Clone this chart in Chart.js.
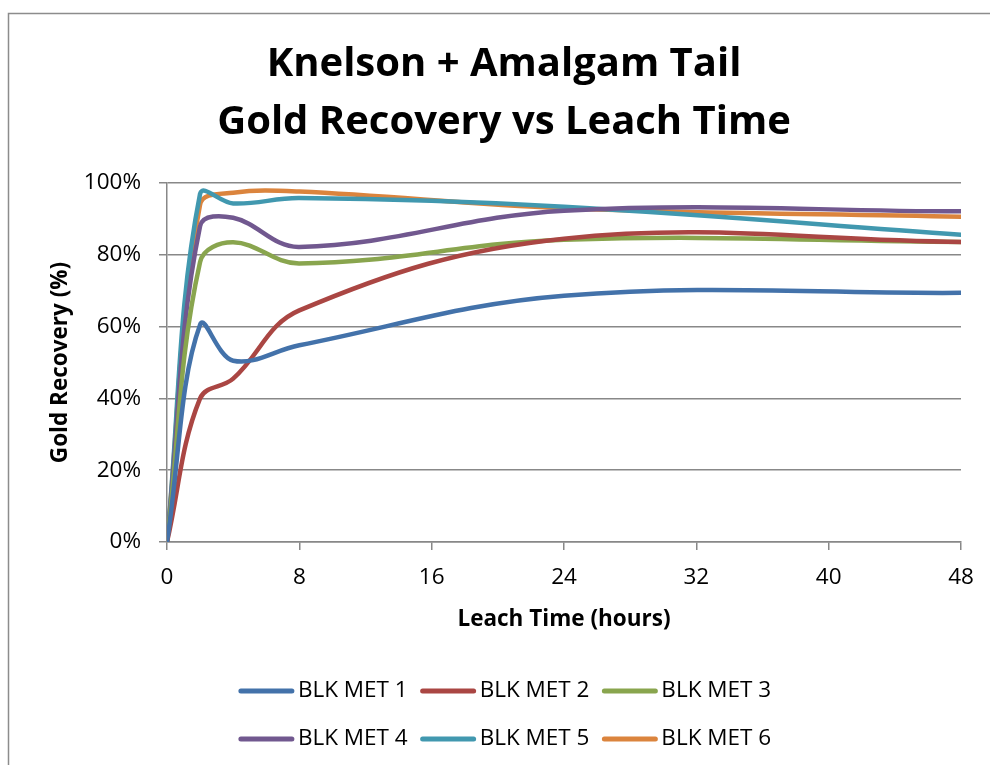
<!DOCTYPE html>
<html>
<head>
<meta charset="utf-8">
<title>Gold Recovery vs Leach Time</title>
<script src="https://cdn.jsdelivr.net/npm/chart.js@4.4.0/dist/chart.umd.min.js"></script>
<style>
  html, body { margin: 0; padding: 0; background: #fff; }
</style>
</head>
<body>
<canvas id="chart" width="990" height="765"></canvas>
<script>
// leach test sample times (hours) and recovery (%) per sample
const leachHours = [0, 2, 4, 8, 24, 48];
const seriesNames = ['BLK MET 1', 'BLK MET 2', 'BLK MET 3', 'BLK MET 4', 'BLK MET 5', 'BLK MET 6'];
const blkMet1 = [0, 60.5, 50.5, 54.8, 68.6, 69.4];
const blkMet2 = [0, 40, 45.5, 64.5, 84.5, 83.6];
const blkMet3 = [0, 78, 83.5, 77.6, 84.2, 83.6];
const blkMet4 = [0, 88, 90.3, 82.2, 92.3, 92.1];
const blkMet5 = [0, 97, 94.3, 95.8, 93.4, 85.6];
const blkMet6 = [0, 94, 97.3, 97.6, 93, 90.6];
const seriesValues = [blkMet1, blkMet2, blkMet3, blkMet4, blkMet5, blkMet6];
const seriesColors = ['#4372AA', '#AA4643', '#89A54E', '#71588F', '#4198AF', '#DB843D'];

const xTicks = [0, 8, 16, 24, 32, 40, 48];
const yTicks = [0, 20, 40, 60, 80, 100];
const titleLines = ['Knelson + Amalgam Tail', 'Gold Recovery vs Leach Time'];

const FONT = 'Open Sans';
const axisGray = '#888888';

// outer chart frame like the spreadsheet export
const chartFrame = {
  id: 'chartFrame',
  beforeDraw(chart) {
    const ctx = chart.ctx;
    ctx.save();
    ctx.strokeStyle = '#8c8c8c';
    ctx.lineWidth = 1.5;
    ctx.strokeRect(8.5, 13.5, 1000, 800);
    ctx.restore();
  }
};

// two-row legend with line samples, 3 items per row
const lineLegend = {
  id: 'lineLegend',
  afterDraw(chart) {
    const ctx = chart.ctx;
    const sets = chart.data.datasets;
    const lineLen = 55, gap = 4, itemGap = 13;
    ctx.save();
    ctx.font = '22.5px ' + FONT;
    ctx.textBaseline = 'middle';
    ctx.textAlign = 'left';
    const widths = sets.map(d => lineLen + gap + ctx.measureText(d.label).width);
    const colW = Math.max(...widths) + itemGap;
    const totalW = colW * 3 - itemGap;
    const x0 = 505 - totalW / 2;
    const top = chart.chartArea.bottom + 149;
    sets.forEach((d, i) => {
      const x = x0 + (i % 3) * colW;
      const y = top + Math.floor(i / 3) * 48;
      ctx.strokeStyle = d.borderColor;
      ctx.lineWidth = 5;
      ctx.lineCap = 'round';
      ctx.beginPath();
      ctx.moveTo(x + 2, y);
      ctx.lineTo(x + lineLen - 2, y);
      ctx.stroke();
      ctx.fillStyle = '#000';
      ctx.fillText(d.label, x + lineLen + gap, y);
    });
    ctx.restore();
  }
};

const ctx = document.getElementById('chart');
new Chart(ctx, {
  type: 'line',
  data: {
    datasets: seriesNames.map((name, i) => ({
      label: name,
      data: leachHours.map((h, j) => ({ x: h, y: seriesValues[i][j] })),
      borderColor: seriesColors[i],
      backgroundColor: seriesColors[i],
      borderWidth: 4.5,
      borderCapStyle: 'round',
      borderJoinStyle: 'round',
      pointRadius: 0,
      tension: 0.38,
      fill: false
    }))
  },
  options: {
    responsive: false,
    animation: false,
    layout: { padding: { left: 47, right: 29, top: 0, bottom: 123 } },
    plugins: {
      legend: { display: false },
      tooltip: { enabled: false },
      title: {
        display: true,
        text: titleLines,
        color: '#000',
        font: { family: FONT, size: 40, weight: 'bold', lineHeight: 58 / 40 },
        padding: { top: 36, bottom: 31 }
      }
    },
    scales: {
      x: {
        type: 'linear',
        min: 0,
        max: 48,
        afterBuildTicks: s => { s.ticks = xTicks.map(v => ({ value: v })); },
        afterFit: s => { s.height = 100; },
        ticks: { color: '#000', padding: 14, font: { family: FONT, size: 22.5 } },
        grid: { drawOnChartArea: false, tickLength: 8, color: axisGray, lineWidth: 1.5 },
        border: { color: axisGray, width: 1.5 },
        title: {
          display: true,
          text: 'Leach Time (hours)',
          color: '#000',
          font: { family: FONT, size: 22.5, weight: 'bold', lineHeight: 1.2 },
          padding: { top: 0, bottom: 9 }
        }
      },
      y: {
        min: 0,
        max: 100,
        afterBuildTicks: s => { s.ticks = yTicks.map(v => ({ value: v })); },
        afterFit: s => { s.width = 120; },
        ticks: { color: '#000', padding: 18, font: { family: FONT, size: 22.5 }, callback: v => v + '%' },
        grid: { tickLength: 8, color: axisGray, lineWidth: 1.5 },
        border: { color: axisGray, width: 1.5 },
        title: {
          display: true,
          text: 'Gold Recovery (%)',
          color: '#000',
          font: { family: FONT, size: 22.5, weight: 'bold', lineHeight: 1.2 },
          padding: { top: 0, bottom: 0 }
        }
      }
    }
  },
  plugins: [chartFrame, lineLegend]
});
</script>
</body>
</html>
